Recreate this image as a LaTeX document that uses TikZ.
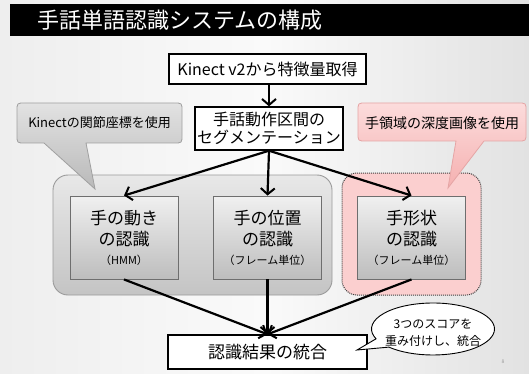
\documentclass[tikz,border=0pt]{standalone}
\usepackage{fontspec}
\setmainfont{Noto Sans CJK JP}
\usetikzlibrary{arrows.meta,shapes.callouts,shapes.geometric}
\definecolor{bgl}{HTML}{EEEEEE}
\definecolor{bgm}{HTML}{FAFAFA}
\definecolor{bgr}{HTML}{E2E2E2}
\definecolor{grptop}{HTML}{E8E8E8}
\definecolor{grpbot}{HTML}{C4C4C4}
\definecolor{grpline}{HTML}{9A9A9A}
\definecolor{rectop}{HTML}{F0F0F0}
\definecolor{recbot}{HTML}{BDBDBD}
\definecolor{recline}{HTML}{6E6E6E}
\definecolor{pinkfill}{HTML}{FBCFCF}
\definecolor{pinktop}{HTML}{FCDCDC}
\definecolor{pinkbot}{HTML}{F5B0B0}
\definecolor{pinkline}{HTML}{E5A5A5}
\definecolor{graytop}{HTML}{E2E2E2}
\definecolor{graybot}{HTML}{B9B9B9}
\definecolor{grayline}{HTML}{A0A0A0}
\begin{document}
\begin{tikzpicture}[x=1pt,y=-1pt,
  whitebox/.style={draw=black,line width=1.4pt,fill=white,inner sep=0pt,align=center},
  recbox/.style={draw=recline,line width=0.9pt,top color=rectop,bottom color=recbot,inner sep=0pt,
    minimum width=108pt,minimum height=83pt},
  rectext/.style={align=center,inner sep=0pt,font=\fontsize{17}{21}\selectfont},
  subtext/.style={inner sep=0pt,font=\fontsize{11}{13}\selectfont},
  flow/.style={line width=2.2pt,-{Straight Barb[length=6pt,width=14pt,line width=2pt]}}
]
\useasboundingbox (0,0) rectangle (529,374);
% background
\shade[left color=bgl,right color=bgr,middle color=bgm] (0,0) rectangle (529,374);
% title
\fill[black] (10,4) rectangle (529,36);
\node[anchor=west,text=white,font=\fontsize{22}{24}\selectfont,inner sep=0pt] (title) at (37,20) {手話単語認識システムの構成};

% top boxes
\node[whitebox,minimum width=197pt,minimum height=30pt,font=\fontsize{16}{18}\selectfont] (kinect) at (267.5,69) {Kinect v2から特徴量取得};
\node[whitebox,minimum width=148pt,minimum height=43pt,font=\fontsize{16}{17.5}\selectfont] (seg) at (269,128.5) {手話動作区間の\\セグメンテーション};

% group boxes
\node[rounded corners=15pt,top color=grptop,bottom color=grpbot,draw=grpline,line width=0.9pt,
  minimum width=279pt,minimum height=120pt,inner sep=0pt] (grpgray) at (192.5,235) {};
\node[rounded corners=15pt,fill=pinkfill,draw=black!75,densely dotted,line width=1pt,
  minimum width=139pt,minimum height=122pt,inner sep=0pt] (grppink) at (411.5,234) {};

% recognition boxes
\node[recbox] (motion) at (124,237.5) {};
\node[recbox] (position) at (267.5,237.5) {};
\node[recbox] (handshape) at (411.5,237.5) {};
\node[rectext] (motiontxt) at (124,229) {手の動き\\の認識};
\node[rectext] (positiontxt) at (267.5,229) {手の位置\\の認識};
\node[rectext] (handshapetxt) at (411.5,229) {手形状\\の認識};
\node[subtext] (motionsub) at (124,260) {（HMM）};
\node[subtext] (positionsub) at (267.5,260) {（フレーム単位）};
\node[subtext] (handshapesub) at (411.5,260) {（フレーム単位）};

% callouts
\shade[draw=grayline,line width=0.8pt,top color=graytop,bottom color=graybot]
  (25,103) -- (174,103) .. controls (182,103) .. (182,111) -- (182,135) .. controls (182,143) .. (174,143)
  -- (86,143) -- (95,189) -- (44,143) -- (25,143) .. controls (17,143) .. (17,135) -- (17,111)
  .. controls (17,103) .. (25,103) -- cycle;
\node[font=\fontsize{13}{15}\selectfont,inner sep=0pt] (jointnote) at (99.5,123) {Kinectの関節座標を使用};

\shade[draw=pinkline,line width=0.8pt,top color=pinktop,bottom color=pinkbot]
  (366,103) -- (518,103) .. controls (526,103) .. (526,111) -- (526,133) .. controls (526,141) .. (518,141)
  -- (484,141) -- (448,188) -- (456,141) -- (366,141) .. controls (358,141) .. (358,133) -- (358,111)
  .. controls (358,103) .. (366,103) -- cycle;
\node[font=\fontsize{14}{16}\selectfont,inner sep=0pt] (depthnote) at (442,123) {手領域の深度画像を使用};

% merge box
\node[whitebox,minimum width=199pt,minimum height=34pt,font=\fontsize{17}{19}\selectfont] (merge) at (267.5,352) {認識結果の統合};

% connectors
\draw[flow] (kinect.south -| seg.north) -- (seg.north);
\draw[flow] (seg.south) -- (motion.north);
\draw[flow] (seg.south) -- (position.north);
\draw[flow] (seg.south) -- (handshape.north);
\draw[flow] (motion.south) -- (merge.north);
\draw[flow] (position.south) -- (merge.north);
\draw[flow] (handshape.south) -- (merge.north);

% score callout
\node[ellipse callout,draw=black,line width=0.9pt,fill=white,minimum width=123pt,minimum height=52pt,
  inner sep=0pt,callout absolute pointer={(357,350)},callout pointer arc=22] (scorenote) at (433,329) {};
\node[font=\fontsize{12}{17}\selectfont,align=center,inner sep=0pt] (scoretext) at (433,333) {3つのスコアを\\重み付けし、統合};

\node[font=\fontsize{5}{6}\selectfont,text=black!40,inner sep=0pt] (pagenum) at (503,362) {8};
\end{tikzpicture}
\end{document}
